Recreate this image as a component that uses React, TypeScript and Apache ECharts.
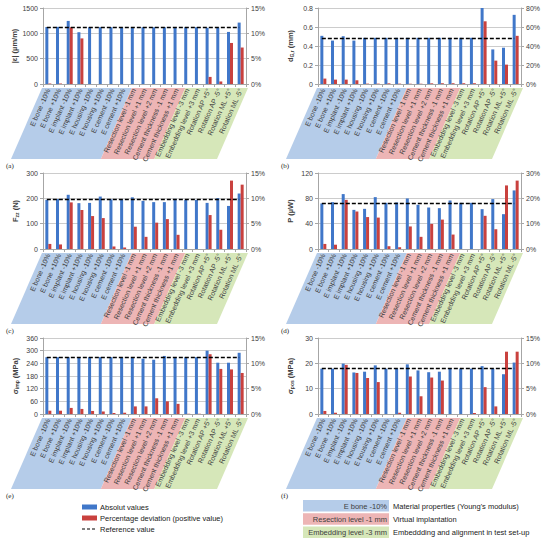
import React, { useEffect, useRef } from 'react';
import * as echarts from 'echarts';

const categories = [
  'E bone -10%', 'E bone +10%', 'E implant -10%', 'E implant +10%',
  'E housing -10%', 'E housing +10%', 'E cement -10%', 'E cement +10%',
  'Resection level -1 mm', 'Resection level +1 mm', 'Resection level +2 mm',
  'Cement thickness -1 mm', 'Cement thickness +1 mm',
  'Embedding level -3 mm', 'Embedding level +3 mm',
  'Rotation AP +5°', 'Rotation AP -5°', 'Rotation ML +5°', 'Rotation ML -5°',
];

// (a) strain
const absA = [1125, 1128, 1245, 1022, 1120, 1120, 1120, 1120, 1120, 1120, 1120, 1120, 1120, 1120, 1120, 1110, 1115, 1028, 1212];
const pctA = [0.1, 0.1, 11.2, 9.0, 0, 0, 0, 0, 0, 0, 0, 0, 0, 0, 0, 1.4, 0.5, 8.1, 7.2];
const refA = 1120;

// (b) displacement
const absB = [0.507, 0.457, 0.503, 0.457, 0.486, 0.486, 0.486, 0.486, 0.486, 0.486, 0.486, 0.486, 0.486, 0.486, 0.486, 0.8, 0.364, 0.382, 0.728];
const pctB = [5.7, 4.6, 4.6, 3.9, 0.4, 0.4, 0.7, 0.4, 0.3, 0.3, 0.7, 0.8, 0.8, 0.8, 0.8, 66, 24.6, 20.4, 50.7];
const refB = 0.486;

// (c) force
const absC = [194, 197, 214, 181, 182, 207, 196, 196, 204, 190, 185, 185, 198, 194, 194, 182, 201, 170, 219];
const pctC = [1.0, 0.9, 9.2, 7.7, 6.5, 6.1, 0.5, 0.3, 4.4, 2.4, 5.2, 5.9, 2.8, 0, 0, 6.7, 3.8, 13.5, 12.7];
const refC = 197;

// (d) power
const absD = [71.9, 74, 86.7, 61.8, 63.4, 81.9, 72.9, 73.5, 79.8, 69.8, 65.5, 64.5, 76.6, 72.9, 72.9, 62.9, 78.8, 55.0, 92.5];
const pctD = [2.0, 1.7, 19.4, 14.8, 12.6, 12.4, 1.1, 0.7, 8.9, 4.8, 9.9, 11.6, 5.7, 0, 0, 13.1, 7.8, 25.1, 27.0];
const refD = 72.4;

// (e) stress implant
const absE = [269, 269, 269, 269, 269, 269, 269, 269, 269, 262, 257, 275, 269, 269, 269, 300, 243, 243, 290];
const pctE = [0.65, 0.65, 1.2, 1.0, 0.6, 0.5, 0.2, 0.25, 1.5, 1.5, 3.1, 2.5, 2.0, 0.05, 0.05, 11.8, 8.9, 8.8, 8.1];
const refE = 271;

// (f) stress pos
const absF = [17.9, 17.9, 19.9, 16.4, 16.7, 19.2, 17.9, 17.9, 19.6, 17.2, 16.5, 16.7, 17.9, 17.9, 17.9, 18.9, 17.9, 15.7, 20.3];
const pctF = [0.6, 0.25, 9.7, 8.1, 7.1, 6.3, 0, 0.25, 7.4, 3.5, 7.2, 6.6, 0, 0, 0.2, 5.3, 1.5, 12.3, 12.3];
const refF = 17.9;

const BLUE = '#4077C9';
const RED = '#C9413E';
const GRIDC = '#BFBFBF';
const TXT = '#404040';
const FONT = '"Liberation Sans", Arial, sans-serif';

const panels = [
  { tag: '(a)', abs: absA, pct: pctA, ref: refA, name: '|ε| (µm/m)', max: 1500, step: 500, pmax: 15, pstep: 5 },
  { tag: '(b)', abs: absB, pct: pctB, ref: refB, name: '{m|d}{s|G,r}{m| (mm)}', max: 0.8, step: 0.2, pmax: 80, pstep: 20 },
  { tag: '(c)', abs: absC, pct: pctC, ref: refC, name: '{m|F}{s|zz}{m| (N)}', max: 300, step: 100, pmax: 15, pstep: 5 },
  { tag: '(d)', abs: absD, pct: pctD, ref: refD, name: 'P (µW)', max: 120, step: 40, pmax: 30, pstep: 10 },
  { tag: '(e)', abs: absE, pct: pctE, ref: refE, name: '{m|σ}{s|imp}{m| (MPa)}', max: 360, step: 60, pmax: 15, pstep: 5 },
  { tag: '(f)', abs: absF, pct: pctF, ref: refF, name: '{m|σ}{s|pos}{m| (MPa)}', max: 30, step: 10, pmax: 15, pstep: 5 },
];

const COLS = [43, 318];
const ROWS = [8, 173, 338];
const W = 203;
const H = 76;

const App: React.FC = () => {
  const chartRef = useRef<HTMLDivElement | null>(null);

  useEffect(() => {
    if (!chartRef.current) return;
    const chart = echarts.init(chartRef.current, undefined, { renderer: 'svg' });

    const grids: any[] = [];
    const xAxes: any[] = [];
    const yAxes: any[] = [];
    const series: any[] = [];
    const graphic: any[] = [];

    panels.forEach((p, i) => {
      const L = COLS[i % 2];
      const T = ROWS[Math.floor(i / 2)];
      grids.push({ left: L, top: T, width: W, height: H });

      xAxes.push({
        type: 'category',
        gridIndex: i,
        data: categories,
        z: 10,
        axisLine: { lineStyle: { color: '#A6A6A6' } },
        axisTick: { show: true, length: 3, lineStyle: { color: '#A6A6A6' } },
        axisLabel: { interval: 0, rotate: 66, fontSize: 7, color: TXT, margin: 5, fontFamily: FONT },
      });

      yAxes.push({
        type: 'value',
        gridIndex: i,
        min: 0,
        max: p.max,
        interval: p.step,
        position: 'left',
        name: p.name,
        nameLocation: 'middle',
        nameGap: 24,
        nameTextStyle: {
          fontSize: 7.5,
          fontWeight: 'bold',
          color: TXT,
          fontFamily: FONT,
          rich: {
            m: { fontSize: 7.5, fontWeight: 'bold', color: TXT, fontFamily: FONT },
            s: { fontSize: 5, fontWeight: 'bold', color: TXT, fontFamily: FONT, verticalAlign: 'bottom' },
          },
        },
        axisLine: { show: true, lineStyle: { color: '#A6A6A6' } },
        axisTick: { show: true, length: 3, lineStyle: { color: '#A6A6A6' } },
        axisLabel: {
          fontSize: 7,
          color: TXT,
          margin: 5,
          fontFamily: FONT,
          formatter: (v: number) => String(Math.round(v * 100) / 100),
        },
        splitLine: { show: true, lineStyle: { color: GRIDC, width: 0.8 } },
      });
      yAxes.push({
        type: 'value',
        gridIndex: i,
        min: 0,
        max: p.pmax,
        interval: p.pstep,
        position: 'right',
        axisLine: { show: true, lineStyle: { color: '#A6A6A6' } },
        axisTick: { show: true, length: 3, lineStyle: { color: '#A6A6A6' } },
        axisLabel: { fontSize: 7, color: TXT, margin: 5, fontFamily: FONT, formatter: '{value}%' },
        splitLine: { show: false },
      });

      series.push({
        type: 'bar',
        name: 'Absolut values',
        xAxisIndex: i,
        yAxisIndex: 2 * i,
        data: p.abs,
        barWidth: 3,
        barGap: '0%',
        itemStyle: { color: BLUE },
        markLine: {
          silent: true,
          symbol: ['none', 'none'],
          label: { show: false },
          lineStyle: { color: '#000', type: [4, 2], width: 1.4 },
          data: [[{ coord: [categories[0], p.ref] }, { coord: [categories[categories.length - 1], p.ref] }]],
        },
      });
      series.push({
        type: 'bar',
        name: 'Percentage deviation (positive value)',
        xAxisIndex: i,
        yAxisIndex: 2 * i + 1,
        data: p.pct,
        barWidth: 3,
        barGap: '0%',
        itemStyle: { color: RED },
      });

      // group backgrounds behind the category labels
      const bw = W / categories.length;
      const top = T + H + 4;
      const bot = top + 71;
      const sh = 31;
      const x0 = L - 1;
      const x1 = L + 8.5 * bw - 2;
      const x2 = L + 13.5 * bw - 2;
      const x3 = L + W + 2;
      const fills = ['#B5CCE9', '#EDB5B5', '#D6E7B9'];
      [[x0, x1], [x1, x2], [x2, x3]].forEach(([a, b], k) => {
        graphic.push({
          type: 'polygon',
          z: -1,
          silent: true,
          shape: { points: [[a, top], [b, top], [b - sh, bot], [a - sh, bot]] },
          style: { fill: fills[k] },
        });
      });
      graphic.push({
        type: 'text',
        x: L - 37,
        y: T + H + 78,
        style: { text: p.tag, fontSize: 7, fill: '#222', fontFamily: '"Liberation Serif", serif' },
      });
    });

    // series legend
    const legendRows = [
      { label: 'Absolut values', color: BLUE },
      { label: 'Percentage deviation (positive value)', color: RED },
      { label: 'Reference value', color: null },
    ];
    legendRows.forEach((r, k) => {
      const cy = 507 + k * 11;
      if (r.color) {
        graphic.push({ type: 'rect', shape: { x: 82, y: cy - 2.5, width: 15, height: 5 }, style: { fill: r.color } });
      } else {
        graphic.push({
          type: 'line',
          shape: { x1: 82, y1: cy, x2: 97, y2: cy },
          style: { stroke: '#000', lineWidth: 1.2, lineDash: [3, 2] },
        });
      }
      graphic.push({
        type: 'text',
        x: 100,
        y: cy,
        style: { text: r.label, fontSize: 7.5, fill: '#222', fontFamily: FONT, textVerticalAlign: 'middle' },
      });
    });

    // group legend
    const groupRows = [
      { box: 'E bone -10%', desc: "Material properties (Young's modulus)", fill: '#B5CCE9' },
      { box: 'Resection level -1 mm', desc: 'Virtual implantation', fill: '#EDB5B5' },
      { box: 'Embedding level -3 mm', desc: 'Embeddding and alignment in test set-up', fill: '#D6E7B9' },
    ];
    groupRows.forEach((r, k) => {
      const y = 500 + k * 13.3;
      graphic.push({ type: 'rect', shape: { x: 303, y, width: 86, height: 11.5 }, style: { fill: r.fill } });
      graphic.push({
        type: 'text',
        x: 387,
        y: y + 6,
        style: { text: r.box, fontSize: 7.5, fill: TXT, fontFamily: FONT, textAlign: 'right', textVerticalAlign: 'middle' },
      });
      graphic.push({
        type: 'text',
        x: 393,
        y: y + 6,
        style: { text: r.desc, fontSize: 7.5, fill: '#222', fontFamily: FONT, textVerticalAlign: 'middle' },
      });
    });

    chart.setOption({
      animation: false,
      backgroundColor: '#fff',
      textStyle: { fontFamily: FONT },
      grid: grids,
      xAxis: xAxes,
      yAxis: yAxes,
      series,
      graphic,
    });

    return () => {
      chart.dispose();
    };
  }, []);

  return (
    <div
      ref={chartRef}
      style={{ position: 'absolute', left: 0, top: 0, width: '550px', height: '544px' }}
    />
  );
};

export default App;
